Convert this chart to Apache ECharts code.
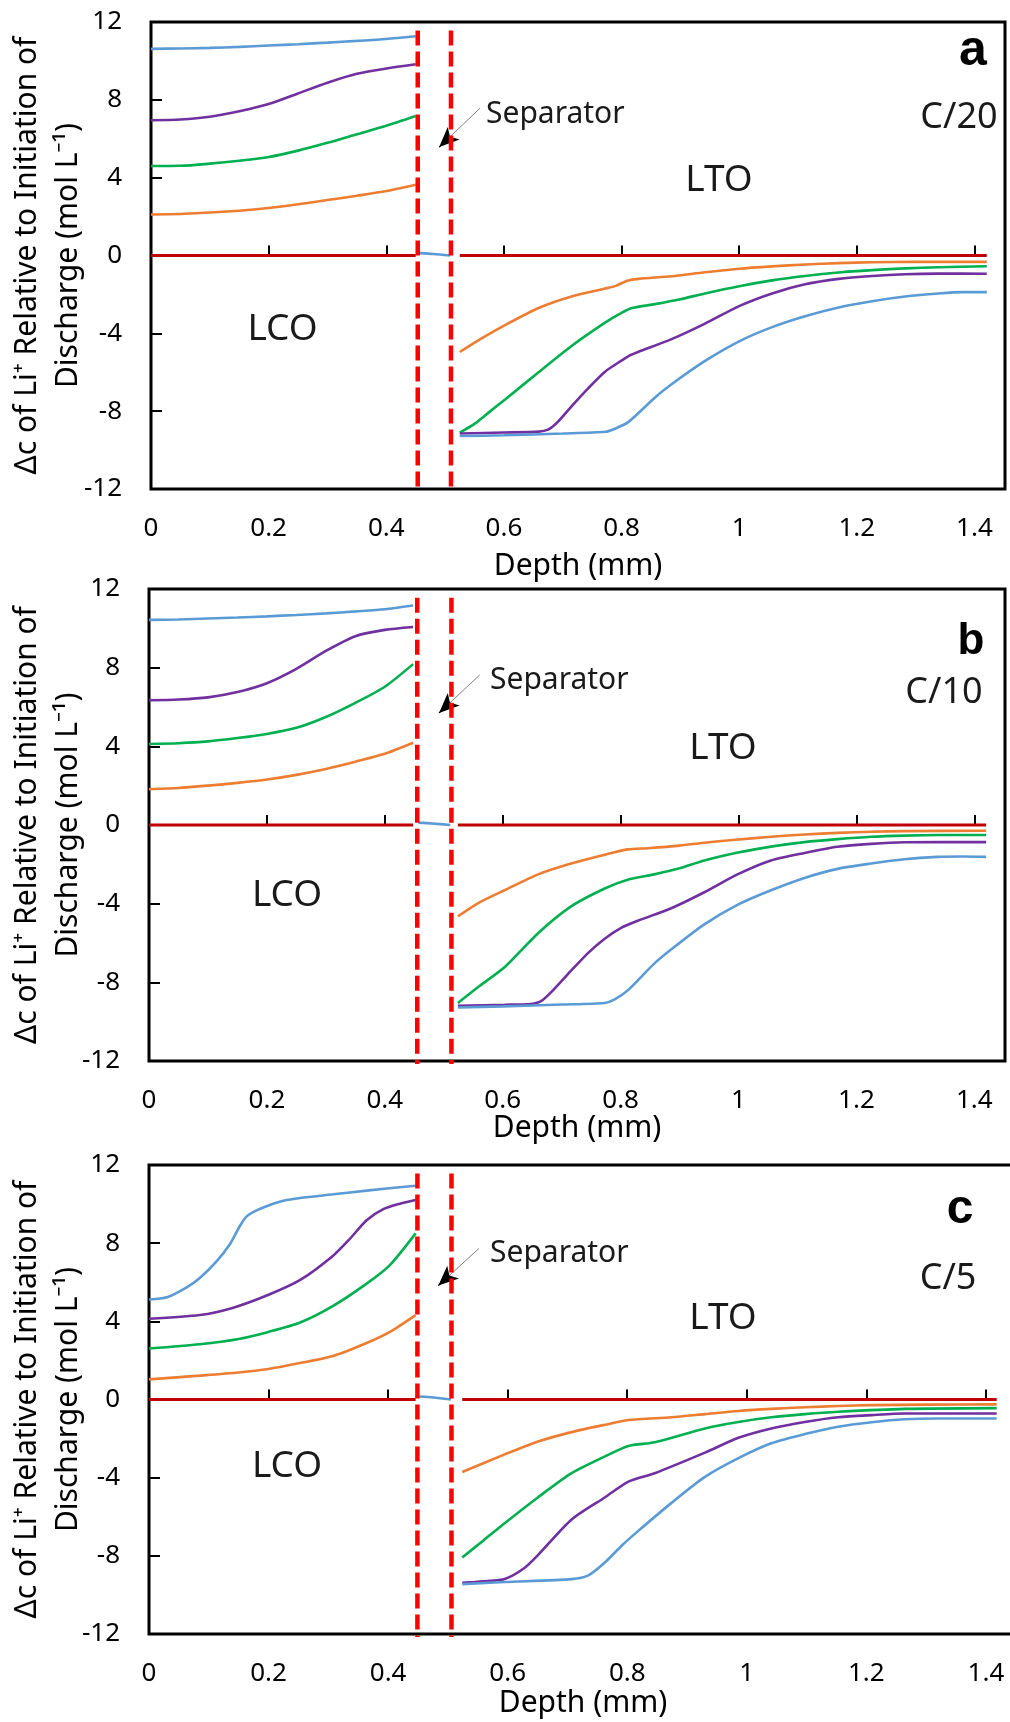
<!DOCTYPE html>
<html>
<head>
<meta charset="utf-8">
<script src="https://cdn.jsdelivr.net/npm/echarts@6/dist/echarts.min.js"></script>
<style>
html,body{margin:0;padding:0;background:#fff;}
#chart{width:1010px;height:1722px;}
</style>
</head>
<body>
<div id="chart"></div>
<script>
// ---------------- DATA ----------------
const xTicks = [0, 0.2, 0.4, 0.6, 0.8, 1, 1.2, 1.4];
const yTicks = [-12, -8, -4, 0, 4, 8, 12];
const rates = ['C/20', 'C/10', 'C/5'];
const panelLetters = ['a', 'b', 'c'];
const sepBounds = [[0.4535, 0.510], [0.455, 0.513], [0.449, 0.506]];

// Panel a (C/20)
const a_blue_LCO   = [[0,10.62],[0.05,10.64],[0.1,10.67],[0.15,10.72],[0.2,10.79],[0.25,10.86],[0.3,10.94],[0.35,11.03],[0.4,11.13],[0.45,11.27]];
const a_purple_LCO = [[0,6.95],[0.05,6.99],[0.1,7.13],[0.15,7.41],[0.2,7.78],[0.25,8.33],[0.3,8.88],[0.35,9.34],[0.4,9.61],[0.45,9.83]];
const a_green_LCO  = [[0,4.6],[0.05,4.61],[0.1,4.72],[0.15,4.87],[0.2,5.06],[0.25,5.39],[0.3,5.79],[0.35,6.23],[0.4,6.67],[0.45,7.17]];
const a_orange_LCO = [[0,2.11],[0.05,2.13],[0.1,2.21],[0.15,2.3],[0.2,2.44],[0.25,2.63],[0.3,2.85],[0.35,3.07],[0.4,3.31],[0.45,3.64]];
const a_blue_SEP   = [[0.456,0.12],[0.48,0.08],[0.509,0.0]];
const a_orange_LTO = [[0.525,-4.96],[0.56,-4.3],[0.602,-3.58],[0.659,-2.7],[0.715,-2.11],[0.772,-1.7],[0.79,-1.56],[0.81,-1.3],[0.829,-1.2],[0.885,-1.07],[0.942,-0.86],[1.0,-0.68],[1.056,-0.56],[1.112,-0.46],[1.169,-0.39],[1.226,-0.35],[1.3,-0.33],[1.421,-0.33]];
const a_green_LTO  = [[0.525,-9.1],[0.55,-8.65],[0.575,-8.05],[0.602,-7.4],[0.659,-6.0],[0.715,-4.65],[0.772,-3.45],[0.8,-2.95],[0.818,-2.7],[0.857,-2.5],[0.9,-2.25],[0.942,-1.95],[1.0,-1.58],[1.056,-1.28],[1.112,-1.05],[1.169,-0.87],[1.226,-0.75],[1.282,-0.66],[1.339,-0.6],[1.421,-0.55]];
const a_purple_LTO = [[0.525,-9.15],[0.6,-9.1],[0.659,-9.05],[0.675,-8.95],[0.69,-8.6],[0.715,-7.75],[0.744,-6.8],[0.772,-5.97],[0.8,-5.4],[0.815,-5.12],[0.829,-4.95],[0.885,-4.3],[0.942,-3.5],[1.0,-2.6],[1.056,-1.95],[1.112,-1.48],[1.169,-1.2],[1.226,-1.05],[1.282,-0.96],[1.339,-0.93],[1.421,-0.94]];
const a_blue_LTO   = [[0.525,-9.28],[0.6,-9.24],[0.7,-9.15],[0.772,-9.06],[0.789,-8.9],[0.812,-8.55],[0.857,-7.3],[0.885,-6.62],[0.942,-5.42],[1.0,-4.41],[1.056,-3.68],[1.112,-3.12],[1.169,-2.67],[1.226,-2.35],[1.282,-2.11],[1.339,-1.95],[1.38,-1.88],[1.421,-1.88]];
const a_red_LCO = [[0,0],[0.45,0]];
const a_red_LTO = [[0.525,0],[1.421,0]];

// Panel b (C/10)
const b_blue_LCO   = [[0,10.43],[0.05,10.45],[0.1,10.5],[0.15,10.55],[0.2,10.61],[0.25,10.68],[0.3,10.76],[0.35,10.86],[0.4,10.97],[0.448,11.16]];
const b_purple_LCO = [[0,6.34],[0.05,6.38],[0.1,6.49],[0.15,6.76],[0.2,7.21],[0.25,7.94],[0.3,8.85],[0.35,9.6],[0.4,9.92],[0.448,10.07]];
const b_green_LCO  = [[0,4.12],[0.05,4.16],[0.1,4.25],[0.15,4.42],[0.2,4.63],[0.25,4.94],[0.3,5.49],[0.35,6.21],[0.4,7.03],[0.448,8.18]];
const b_orange_LCO = [[0,1.82],[0.05,1.88],[0.1,2.0],[0.15,2.14],[0.2,2.31],[0.25,2.55],[0.3,2.85],[0.35,3.22],[0.4,3.62],[0.448,4.18]];
const b_blue_SEP   = [[0.457,0.12],[0.48,0.08],[0.511,0.0]];
const b_orange_LTO = [[0.524,-4.65],[0.56,-3.95],[0.603,-3.32],[0.66,-2.51],[0.716,-1.96],[0.773,-1.51],[0.812,-1.24],[0.846,-1.18],[0.9,-1.05],[0.942,-0.9],[1.0,-0.74],[1.055,-0.6],[1.112,-0.48],[1.168,-0.4],[1.225,-0.34],[1.281,-0.31],[1.42,-0.29]];
const b_green_LTO  = [[0.524,-9.05],[0.56,-8.2],[0.603,-7.23],[0.66,-5.5],[0.716,-4.14],[0.773,-3.23],[0.812,-2.78],[0.857,-2.51],[0.9,-2.2],[0.942,-1.8],[0.999,-1.4],[1.055,-1.1],[1.112,-0.87],[1.168,-0.72],[1.225,-0.6],[1.281,-0.54],[1.338,-0.51],[1.42,-0.51]];
const b_purple_LTO = [[0.524,-9.19],[0.603,-9.14],[0.648,-9.1],[0.665,-8.96],[0.688,-8.32],[0.716,-7.41],[0.745,-6.5],[0.773,-5.78],[0.801,-5.23],[0.829,-4.87],[0.886,-4.23],[0.942,-3.42],[0.999,-2.5],[1.055,-1.8],[1.112,-1.42],[1.168,-1.11],[1.225,-0.96],[1.281,-0.88],[1.42,-0.87]];
const b_blue_LTO   = [[0.524,-9.28],[0.6,-9.22],[0.7,-9.13],[0.773,-9.05],[0.79,-8.87],[0.812,-8.41],[0.857,-7.05],[0.886,-6.32],[0.942,-5.05],[0.999,-4.05],[1.055,-3.32],[1.112,-2.69],[1.168,-2.23],[1.225,-1.96],[1.281,-1.74],[1.338,-1.62],[1.38,-1.6],[1.42,-1.62]];
const b_red_LCO = [[0,0],[0.448,0]];
const b_red_LTO = [[0.524,0],[1.42,0]];

// Panel c (C/5)
const c_blue_LCO   = [[0,5.12],[0.03,5.23],[0.063,5.74],[0.085,6.22],[0.113,7.07],[0.135,7.93],[0.152,8.88],[0.163,9.36],[0.18,9.68],[0.2,9.93],[0.225,10.17],[0.253,10.31],[0.308,10.5],[0.364,10.69],[0.446,10.94]];
const c_purple_LCO = [[0,4.13],[0.085,4.32],[0.141,4.7],[0.2,5.36],[0.253,6.12],[0.308,7.36],[0.336,8.22],[0.364,9.17],[0.392,9.74],[0.42,10.02],[0.446,10.21]];
const c_green_LCO  = [[0,2.61],[0.085,2.83],[0.15,3.1],[0.2,3.46],[0.253,3.94],[0.308,4.79],[0.364,5.93],[0.403,6.88],[0.446,8.5]];
const c_orange_LCO = [[0,1.03],[0.085,1.22],[0.15,1.38],[0.2,1.56],[0.25,1.85],[0.308,2.23],[0.364,2.89],[0.403,3.46],[0.446,4.32]];
const c_blue_SEP   = [[0.452,0.15],[0.475,0.1],[0.505,0.0]];
const c_orange_LTO = [[0.524,-3.71],[0.595,-2.81],[0.651,-2.15],[0.707,-1.67],[0.763,-1.29],[0.802,-1.05],[0.874,-0.91],[0.93,-0.75],[0.986,-0.59],[1.041,-0.48],[1.097,-0.4],[1.153,-0.33],[1.209,-0.29],[1.3,-0.26],[1.418,-0.25]];
const c_green_LTO  = [[0.524,-8.08],[0.56,-7.2],[0.595,-6.33],[0.651,-5.0],[0.707,-3.77],[0.763,-2.91],[0.802,-2.38],[0.846,-2.19],[0.93,-1.48],[0.986,-1.15],[1.041,-0.91],[1.097,-0.75],[1.153,-0.63],[1.264,-0.48],[1.418,-0.44]];
const c_purple_LTO = [[0.524,-9.38],[0.545,-9.34],[0.57,-9.28],[0.595,-9.19],[0.628,-8.62],[0.651,-7.95],[0.707,-6.14],[0.763,-5.0],[0.802,-4.2],[0.846,-3.77],[0.93,-2.72],[0.986,-1.96],[1.041,-1.48],[1.097,-1.15],[1.153,-0.91],[1.209,-0.8],[1.264,-0.72],[1.418,-0.72]];
const c_blue_LTO   = [[0.524,-9.45],[0.595,-9.34],[0.707,-9.19],[0.735,-9.0],[0.763,-8.33],[0.791,-7.47],[0.819,-6.71],[0.874,-5.29],[0.93,-3.96],[0.986,-3.0],[1.041,-2.24],[1.097,-1.77],[1.153,-1.39],[1.209,-1.16],[1.264,-1.01],[1.32,-0.97],[1.418,-0.97]];
const c_red_LCO = [[0,0],[0.446,0]];
const c_red_LTO = [[0.524,0],[1.418,0]];

// Annotation arrows [start, tip] in data coords
const sepArrows = [
  [[0.5595, 7.57], [0.49, 5.57]],
  [[0.561, 7.63], [0.492, 5.70]],
  [[0.552, 7.73], [0.484, 5.83]]
];

// ---------------- BUILD ----------------
const COLORS = {red:'#C00000', orange:'#ED7D31', green:'#00B050', purple:'#7030A0', blue:'#5B9BD5'};
const FONT = '"Noto Sans", "Open Sans", sans-serif';

function joinSegs(...segs) {
  let out = [];
  segs.forEach((s, i) => {
    if (i > 0) out.push([s[0][0] - 0.001, null]);
    out = out.concat(s);
  });
  return out;
}

const panelData = [
  {red: joinSegs(a_red_LCO, a_red_LTO), orange: joinSegs(a_orange_LCO, a_orange_LTO), green: joinSegs(a_green_LCO, a_green_LTO), purple: joinSegs(a_purple_LCO, a_purple_LTO), blue: joinSegs(a_blue_LCO, a_blue_SEP, a_blue_LTO)},
  {red: joinSegs(b_red_LCO, b_red_LTO), orange: joinSegs(b_orange_LCO, b_orange_LTO), green: joinSegs(b_green_LCO, b_green_LTO), purple: joinSegs(b_purple_LCO, b_purple_LTO), blue: joinSegs(b_blue_LCO, b_blue_SEP, b_blue_LTO)},
  {red: joinSegs(c_red_LCO, c_red_LTO), orange: joinSegs(c_orange_LCO, c_orange_LTO), green: joinSegs(c_green_LCO, c_green_LTO), purple: joinSegs(c_purple_LCO, c_purple_LTO), blue: joinSegs(c_blue_LCO, c_blue_SEP, c_blue_LTO)}
];

const grids = [
  {left:151, top:22, width:854, height:467},
  {left:149, top:589, width:856, height:472},
  {left:149, top:1165, width:868, height:469}
];
const xNameGap = [62, 52, 54];
const yNameGap = [62, 60, 60];

const option = {
  animation: false,
  backgroundColor: '#fff',
  grid: grids.map(g => Object.assign({show:true, borderColor:'#000', borderWidth:3, backgroundColor:'transparent', containLabel:false, outerBoundsMode:'none'}, g)),
  xAxis: grids.map((g, i) => ({
    gridIndex: i, type:'value', min:0, max:1.452, interval:0.2,
    name:'Depth (mm)', nameLocation:'middle', nameGap:xNameGap[i], nameMoveOverlap:false,
    nameTextStyle:{fontFamily:FONT, fontSize:30, color:'#000'},
    axisLine:{show:false},
    axisTick:{show:true, inside:true, length:10, lineStyle:{color:'#000', width:2},
      customValues: xTicks},
    axisLabel:{show:true, margin:27, fontFamily:FONT, fontSize:26, color:'#000',
      customValues: xTicks,
      formatter: v => String(Math.round(v*10)/10)},
    splitLine:{show:false}
  })),
  yAxis: grids.map((g, i) => ({
    gridIndex: i, type:'value', min:-12, max:12, interval:4,
    name:'\u0394c of Li\u207A Relative to Initiation of\nDischarge (mol L\u207B\u00B9)',
    nameLocation:'middle', nameRotate:90, nameGap:yNameGap[i], nameMoveOverlap:false,
    nameTextStyle:{fontFamily:FONT, fontSize:30, color:'#000', lineHeight:41},
    axisLine:{show:false},
    axisTick:{show:true, inside:true, length:11, lineStyle:{color:'#000', width:2}},
    axisLabel:{show:true, margin:29, fontFamily:FONT, fontSize:26, color:'#000',
      formatter: v => String(v)},
    splitLine:{show:false}
  })),
  series: [],
  graphic: []
};

const order = ['red', 'orange', 'green', 'purple', 'blue'];
panelData.forEach((pd, i) => {
  order.forEach(k => {
    const s = {
      type:'line', xAxisIndex:i, yAxisIndex:i, data: pd[k], showSymbol:false, symbol:'none',
      smooth: k === 'red' ? false : 0.25, connectNulls:false,
      lineStyle:{color:COLORS[k], width: k === 'red' ? 3 : 2.6}, silent:true, z: 3
    };
    if (k === 'red') {
      const st = sepArrows[i][0], tp = sepArrows[i][1];
      const mid = [tp[0] + (st[0]-tp[0])*0.25, tp[1] + (st[1]-tp[1])*0.25];
      s.markLine = {
        silent:true, animation:false, label:{show:false}, symbol:['none','none'],
        lineStyle:{color:'#808080', width:1, type:'solid'},
        data:[
          [{coord: st}, {coord: tp}],
          [{coord: mid, symbol:'none', lineStyle:{color:'#000', width:1.2}},
           {coord: tp, symbol:'arrow', symbolSize:[13,20], lineStyle:{color:'#000', width:1.2}}]
        ]
      };
    }
    option.series.push(s);
  });
  sepBounds[i].forEach(xv => {
    option.series.push({
      type:'line', xAxisIndex:i, yAxisIndex:i, data:[[xv, 11.56], [xv, -12.15]],
      showSymbol:false, symbol:'none', clip:false, silent:true, z:5,
      lineStyle:{color:'#FF0000', width:4.5, type:[15,6]}
    });
  });
});

// Text annotations
const texts = [
  // panel a
  {t:'LCO', x:282.5, y:329, s:37}, {t:'LTO', x:719, y:180, s:37},
  {t:'Separator', x:486, y:114, s:30, align:'left'}, {t:'C/20', x:959, y:118, s:36},
  // panel b
  {t:'LCO', x:287, y:895, s:37}, {t:'LTO', x:723, y:748, s:37},
  {t:'Separator', x:490, y:680, s:30, align:'left'}, {t:'C/10', x:944, y:693, s:36},
  // panel c
  {t:'LCO', x:287, y:1466, s:37}, {t:'LTO', x:723, y:1318, s:37},
  {t:'Separator', x:490, y:1253, s:30, align:'left'}, {t:'C/5', x:948, y:1279, s:36}
];
texts.forEach(o => option.graphic.push({
  type:'text', x:o.x, y:o.y, silent:true, z:10,
  style:{text:o.t, fill:'#1a1a1a', font:`${o.s}px ${FONT}`, align:o.align || 'center', verticalAlign:'middle'}
}));
const letters = [{t:'a', x:973, y:51, s:50}, {t:'b', x:971, y:642, s:44}, {t:'c', x:960, y:1210, s:48}];
letters.forEach(o => option.graphic.push({
  type:'text', x:o.x, y:o.y, silent:true, z:10,
  style:{text:o.t, fill:'#000', font:`bold ${o.s}px "Liberation Sans", Arial, sans-serif`, align:'center', verticalAlign:'middle'}
}));

const chart = echarts.init(document.getElementById('chart'), null, {renderer:'canvas'});
chart.setOption(option);
</script>
</body>
</html>
